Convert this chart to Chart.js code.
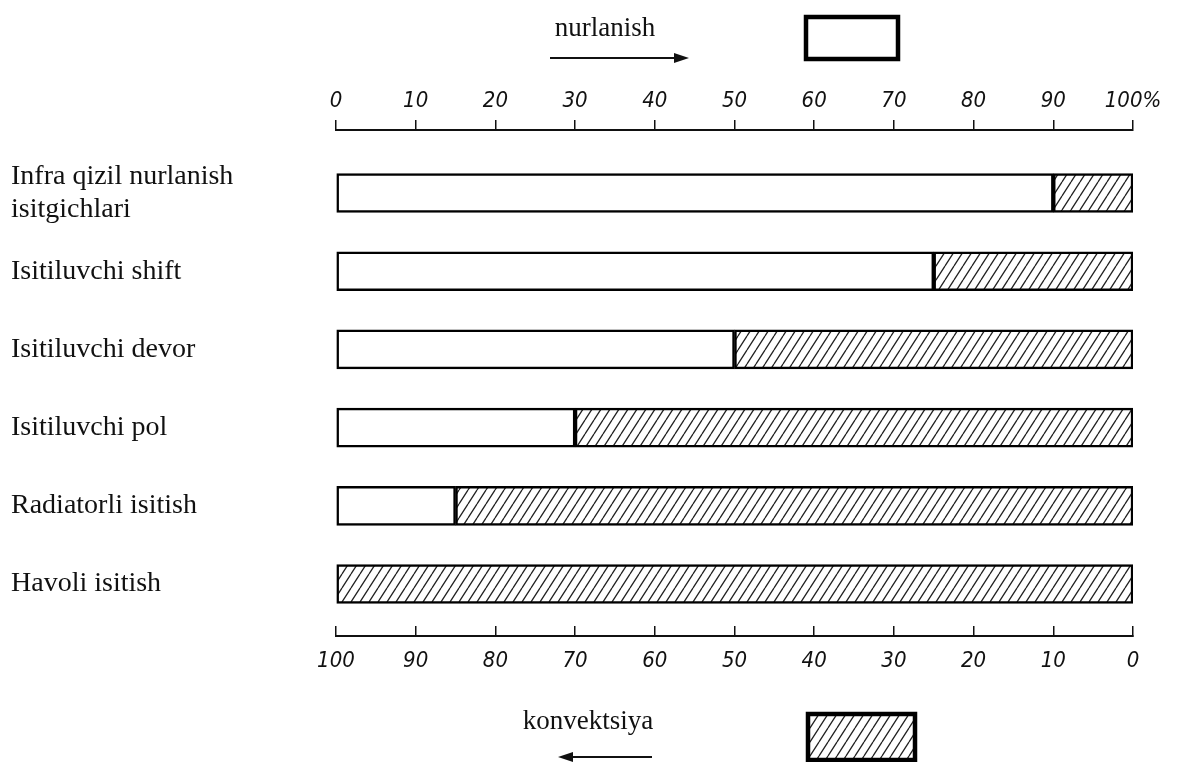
<!DOCTYPE html>
<html><head><meta charset="utf-8">
<script src="https://cdn.jsdelivr.net/npm/chart.js@4.4.1/dist/chart.umd.min.js"></script>
<style>html,body{margin:0;padding:0;background:#fff}#wrap{width:1179px;height:762px;position:relative}</style>
</head><body><div id="wrap"><canvas id="c"></canvas></div>
<script>
const categories = [["Infra qizil nurlanish", "isitgichlari"], "Isitiluvchi shift", "Isitiluvchi devor", "Isitiluvchi pol", "Radiatorli isitish", "Havoli isitish"];
const radiationValues = [90, 75, 50, 30, 15, 0];
const convectionValues = [10, 25, 50, 70, 85, 100];
const seriesNames = ["nurlanish", "konvektsiya"];
const axisMin = 0, axisMax = 100, axisStep = 10;
const topLastLabel = "100%";

function makeHatch(w, h, lw) {
  const pc = document.createElement('canvas');
  pc.width = w; pc.height = h;
  const g = pc.getContext('2d');
  g.fillStyle = '#fff'; g.fillRect(0, 0, w, h);
  g.strokeStyle = '#222'; g.lineWidth = lw;
  g.beginPath();
  for (const dx of [-w, 0, w]) {
    g.moveTo(dx, h); g.lineTo(dx + w, 0);
  }
  g.stroke();
  return g.createPattern(pc, 'repeat');
}
const hatch = makeHatch(9, 14, 1.3);

const serif = "'Liberation Serif', 'Times New Roman', serif";
const tickFamily = "'DejaVu Sans Condensed', 'Liberation Sans Narrow', 'DejaVu Sans', sans-serif";

const legendPlugin = {
  id: 'customLegend',
  afterDraw(chart) {
    const ctx = chart.ctx;
    const ds = chart.data.datasets;
    ctx.save();
    ctx.fillStyle = '#111';
    ctx.font = "27px " + serif;
    ctx.textAlign = 'center';
    ctx.textBaseline = 'middle';
    ctx.fillText(ds[0].label, 605, 29);
    ctx.fillText(ds[1].label, 588, 722);
    // arrows
    ctx.strokeStyle = '#111'; ctx.lineWidth = 1.8;
    ctx.beginPath(); ctx.moveTo(550, 58); ctx.lineTo(678, 58); ctx.stroke();
    ctx.beginPath(); ctx.moveTo(689, 58); ctx.lineTo(674, 53); ctx.lineTo(674, 63); ctx.closePath(); ctx.fill();
    ctx.beginPath(); ctx.moveTo(652, 757); ctx.lineTo(570, 757); ctx.stroke();
    ctx.beginPath(); ctx.moveTo(558, 757); ctx.lineTo(573, 752); ctx.lineTo(573, 762); ctx.closePath(); ctx.fill();
    // boxes
    ctx.lineWidth = 4.5; ctx.strokeStyle = '#000';
    ctx.fillStyle = ds[0].backgroundColor;
    ctx.fillRect(806, 17, 92, 42); ctx.strokeRect(806, 17, 92, 42);
    ctx.fillStyle = ds[1].backgroundColor;
    ctx.fillRect(808, 714, 107, 46); ctx.strokeRect(808, 714, 107, 46);
    ctx.restore();
  }
};

new Chart(document.getElementById('c'), {
  type: 'bar',
  data: {
    datasets: [
      { label: seriesNames[0], data: radiationValues.map((v, i) => ({ x: v, y: i })), backgroundColor: '#fff', borderColor: '#000', borderWidth: 2.5, borderSkipped: false, barThickness: 39 },
      { label: seriesNames[1], data: convectionValues.map((v, i) => ({ x: v, y: i })), backgroundColor: hatch, borderColor: '#000', borderWidth: 2.5, borderSkipped: false, barThickness: 39 }
    ]
  },
  options: {
    indexAxis: 'y',
    responsive: true,
    maintainAspectRatio: false,
    animation: false,
    layout: { padding: { left: 11, right: 46, top: 0, bottom: 0 } },
    plugins: { legend: { display: false }, tooltip: { enabled: false } },
    scales: {
      x: {
        type: 'linear', position: 'top', stacked: true, min: axisMin, max: axisMax,
        afterFit(s) { s.height = 130; },
        grid: { drawOnChartArea: false, drawTicks: true, tickLength: 10, color: '#111', lineWidth: 1.5 },
        border: { display: true, color: '#111', width: 2 },
        ticks: { stepSize: axisStep, padding: 6, color: '#111', maxRotation: 0,
          font: { family: tickFamily, size: 22, style: 'italic' },
          callback: v => v === axisMax ? topLastLabel : String(v) }
      },
      x2: {
        type: 'linear', position: 'bottom', reverse: true, min: axisMin, max: axisMax,
        afterFit(s) { s.height = 126; },
        grid: { drawOnChartArea: false, drawTicks: true, tickLength: -10, color: '#111', lineWidth: 1.5 },
        border: { display: true, color: '#111', width: 2 },
        ticks: { stepSize: axisStep, padding: 22, color: '#111', maxRotation: 0,
          font: { family: tickFamily, size: 22, style: 'italic' } }
      },
      y: {
        type: 'linear', stacked: true, reverse: true, offset: false, min: -0.806, max: 5.665,
        afterFit(s) { s.width = 325; },
        grid: { display: false }, border: { display: false },
        ticks: { stepSize: 1, autoSkip: false, crossAlign: 'far', padding: 0, color: '#111',
          font: { family: serif, size: 28, lineHeight: 1.2 },
          callback: v => Number.isInteger(v) && v >= 0 && v < categories.length ? categories[v] : null }
      }
    }
  },
  plugins: [legendPlugin]
});
</script>
</body></html>
